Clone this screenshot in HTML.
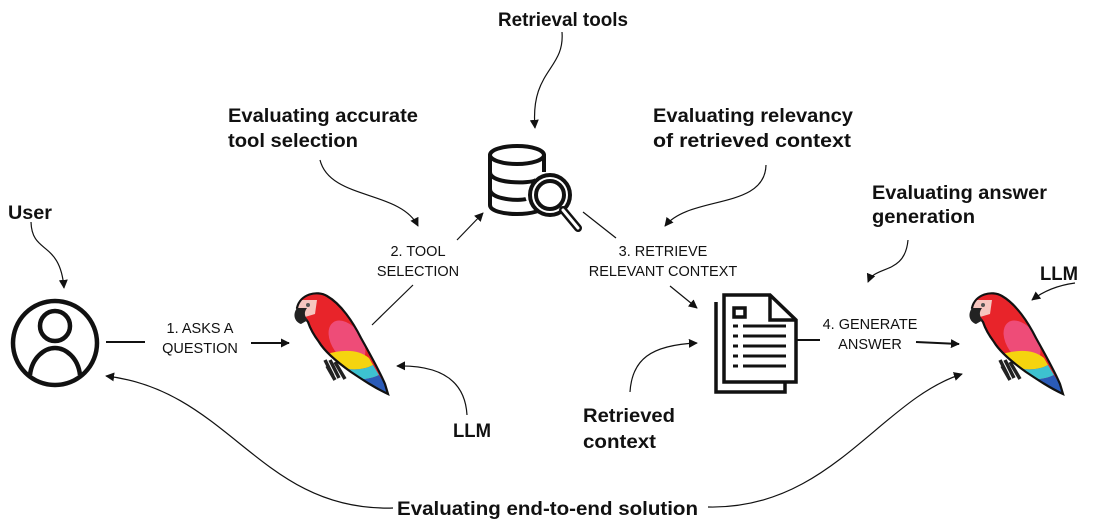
<!DOCTYPE html>
<html><head><meta charset="utf-8"><style>
html,body{margin:0;padding:0;background:#fff;width:1111px;height:528px;overflow:hidden}
.b{font-family:"Liberation Sans",sans-serif;font-weight:bold;font-size:19px;fill:#111}
.n{font-family:"Liberation Sans",sans-serif;font-size:14.5px;fill:#111;text-anchor:middle}
.c{fill:none;stroke:#111;stroke-width:1.2}
.l{fill:none;stroke:#111;stroke-width:2}
</style></head><body>
<svg width="1111" height="528" viewBox="0 0 1111 528" xmlns="http://www.w3.org/2000/svg">
<defs>
<marker id="a" viewBox="0 0 10 10" refX="9" refY="5" markerWidth="9" markerHeight="9" markerUnits="userSpaceOnUse" orient="auto"><path d="M0,0L10,5L0,10Z" fill="#111"/></marker>
<clipPath id="pb"><path d="M22,28 C25,14 42,10 52,16 C66,24 78,42 86,58 C96,76 104,90 110,104 L113,114 C100,108 88,100 76,92 C62,82 50,72 44,62 C38,54 35,48 33,42 Z"/></clipPath>
<g id="parrot">
<path d="M50,80 L58,96 M55,80 L64,98 M60,82 L70,99 M52,86 L60,100" stroke="#222" stroke-width="3.5" fill="none"/>
<g clip-path="url(#pb)">
<rect x="0" y="0" width="130" height="130" fill="#e8242a"/>
<ellipse cx="72" cy="62" rx="15" ry="24" transform="rotate(-35 72 62)" fill="#ee4c78"/>
<path d="M48,75 C65,70 82,68 94,78 L98,85 C85,92 68,90 52,83Z" fill="#f5d40f"/>
<path d="M52,83 C68,90 85,92 98,85 L104,95 C90,102 72,100 58,91Z" fill="#3dc2d0"/>
<path d="M58,91 C72,100 90,102 104,95 L120,120 L75,110Z" fill="#2a5bb8"/>
<path d="M20,20 L42,20 L40,34 L20,40Z" fill="#f6c6c0"/>
</g>
<path d="M22,28 C25,14 42,10 52,16 C66,24 78,42 86,58 C96,76 104,90 110,104 L113,114 C100,108 88,100 76,92 C62,82 50,72 44,62 C38,54 35,48 33,42 Z" fill="none" stroke="#111" stroke-width="2.2"/>
<path d="M22,28 C17,35 20,42 26,44 L33,40 C29,36 29,32 32,28 Z" fill="#222"/>
<circle cx="33" cy="25" r="2" fill="#555"/>
</g>
</defs>

<text class="b" x="498" y="26" textLength="130" lengthAdjust="spacingAndGlyphs">Retrieval tools</text>
<text class="b" x="228" y="122" textLength="190" lengthAdjust="spacingAndGlyphs">Evaluating accurate</text>
<text class="b" x="228" y="147" textLength="130" lengthAdjust="spacingAndGlyphs">tool selection</text>
<text class="b" x="653" y="122" textLength="200" lengthAdjust="spacingAndGlyphs">Evaluating relevancy</text>
<text class="b" x="653" y="147" textLength="198" lengthAdjust="spacingAndGlyphs">of retrieved context</text>
<text class="b" x="872" y="199" textLength="175" lengthAdjust="spacingAndGlyphs">Evaluating answer</text>
<text class="b" x="872" y="223" textLength="103" lengthAdjust="spacingAndGlyphs">generation</text>
<text class="b" x="1040" y="280" textLength="38" lengthAdjust="spacingAndGlyphs">LLM</text>
<text class="b" x="8" y="219" textLength="44" lengthAdjust="spacingAndGlyphs">User</text>
<text class="b" x="453" y="437" textLength="38" lengthAdjust="spacingAndGlyphs">LLM</text>
<text class="b" x="583" y="422" textLength="92" lengthAdjust="spacingAndGlyphs">Retrieved</text>
<text class="b" x="583" y="448" textLength="73" lengthAdjust="spacingAndGlyphs">context</text>
<text class="b" x="397" y="515" textLength="301" lengthAdjust="spacingAndGlyphs">Evaluating end-to-end solution</text>

<text class="n" x="418" y="256">2. TOOL</text>
<text class="n" x="418" y="276">SELECTION</text>
<text class="n" x="663" y="256">3. RETRIEVE</text>
<text class="n" x="663" y="276">RELEVANT CONTEXT</text>
<text class="n" x="200" y="333">1. ASKS A</text>
<text class="n" x="200" y="353">QUESTION</text>
<text class="n" x="870" y="329">4. GENERATE</text>
<text class="n" x="870" y="349">ANSWER</text>

<path class="c" d="M562,32 C565,70 530,70 535,128" marker-end="url(#a)"/>
<path class="c" d="M320,160 C330,200 400,190 418,226" marker-end="url(#a)"/>
<path class="c" d="M766,165 C765,210 690,195 665,226" marker-end="url(#a)"/>
<path class="c" d="M908,240 C905,275 875,265 868,282" marker-end="url(#a)"/>
<path class="c" d="M1075,283 C1060,285 1045,290 1032,300" marker-end="url(#a)"/>
<path class="c" d="M31,222 C32,255 60,240 64,288" marker-end="url(#a)"/>
<path class="c" d="M467,415 C465,380 440,365 397,366" marker-end="url(#a)"/>
<path class="c" d="M630,392 C632,360 650,345 697,343" marker-end="url(#a)"/>
<path class="c" d="M393,508 C260,512 230,390 106,376" marker-end="url(#a)"/>
<path class="c" d="M708,507 C830,510 880,400 962,374" marker-end="url(#a)"/>

<line class="l" x1="106" y1="342" x2="145" y2="342"/>
<line class="l" x1="251" y1="343" x2="289" y2="343" marker-end="url(#a)"/>
<line class="c" x1="372" y1="325" x2="413" y2="285"/>
<line class="c" x1="457" y1="240" x2="483" y2="213" marker-end="url(#a)"/>
<line class="c" x1="583" y1="212" x2="616" y2="238"/>
<line class="c" x1="670" y1="286" x2="697" y2="308" marker-end="url(#a)"/>
<line class="l" x1="797" y1="340" x2="820" y2="340"/>
<line class="l" x1="916" y1="342" x2="959" y2="344" marker-end="url(#a)"/>

<circle cx="55" cy="343" r="42" fill="none" stroke="#111" stroke-width="4.5"/>
<circle cx="55" cy="326" r="15" fill="none" stroke="#111" stroke-width="4.5"/>
<path d="M30,375 C32,357 45,348 55,348 C65,348 78,357 80,375" fill="none" stroke="#111" stroke-width="4.5"/>

<use href="#parrot" transform="translate(275,280)"/>
<use href="#parrot" transform="translate(950,280)"/>

<g fill="none" stroke="#111" stroke-width="4">
<ellipse cx="517" cy="155" rx="27" ry="9"/>
<path d="M490,155 V205 C490,217 544,217 544,205"/>
<path d="M544,155 V172"/>
<path d="M490,172 C490,184 530,184 536,180"/>
<path d="M490,189 C490,200 520,201 526,199"/>
<circle cx="550" cy="195" r="20" fill="#fff"/>
<circle cx="550" cy="195" r="14"/>
<path d="M563,210 L578,228" stroke-width="8" stroke-linecap="round"/>
</g>
<path d="M563,210 L578,228" stroke="#fff" stroke-width="3" stroke-linecap="round"/>

<g fill="none" stroke="#111" stroke-width="3.5">
<path d="M716,302 V392 H785 V380"/>
<path d="M724,295 H770 L796,320 V382 H724 Z" fill="#fff"/>
<path d="M770,295 V320 H796"/>
<rect x="734" y="308" width="11" height="9"/>
</g>
<g stroke="#111" stroke-width="3">
<line x1="733" y1="326" x2="738" y2="326"/><line x1="743" y1="326" x2="786" y2="326"/>
<line x1="733" y1="336" x2="738" y2="336"/><line x1="743" y1="336" x2="786" y2="336"/>
<line x1="733" y1="346" x2="738" y2="346"/><line x1="743" y1="346" x2="786" y2="346"/>
<line x1="733" y1="356" x2="738" y2="356"/><line x1="743" y1="356" x2="786" y2="356"/>
<line x1="733" y1="366" x2="738" y2="366"/><line x1="743" y1="366" x2="786" y2="366"/>
</g>
</svg>
</body></html>
